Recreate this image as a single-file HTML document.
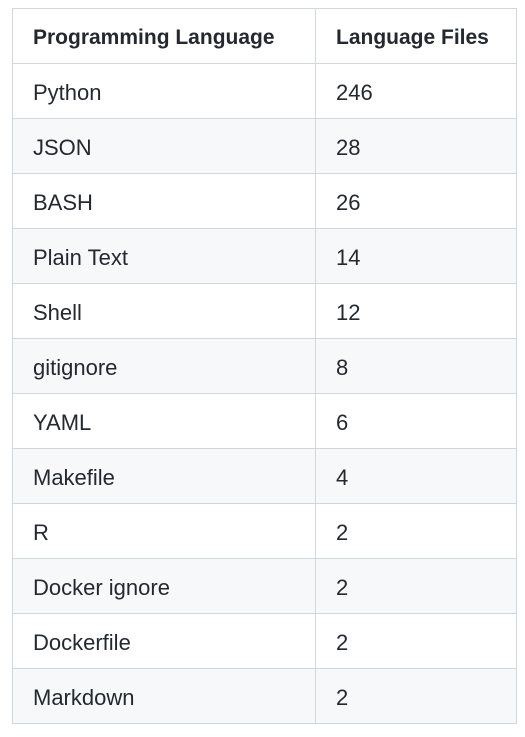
<!DOCTYPE html>
<html><head><style>
body{margin:0;width:525px;height:737px;background:#fff;font-family:"Liberation Sans",sans-serif;color:#24292f;}
table{position:absolute;left:12px;top:8px;border-collapse:collapse;width:505px;}
td,th{border:1px solid #d0d7de;height:55px;padding:4px 0 0 20px;text-align:left;font-size:22px;box-sizing:border-box;}
th{font-weight:bold;font-size:21px;padding-top:3px;}
td:first-child,th:first-child{width:303px;}
tr:nth-child(odd) td{background:#f6f8fa;}
tr:first-child th{background:#fff}
</style></head><body>
<table>
<tr><th>Programming Language</th><th>Language Files</th></tr>
<tr><td>Python</td><td>246</td></tr>
<tr><td>JSON</td><td>28</td></tr>
<tr><td>BASH</td><td>26</td></tr>
<tr><td>Plain Text</td><td>14</td></tr>
<tr><td>Shell</td><td>12</td></tr>
<tr><td>gitignore</td><td>8</td></tr>
<tr><td>YAML</td><td>6</td></tr>
<tr><td>Makefile</td><td>4</td></tr>
<tr><td>R</td><td>2</td></tr>
<tr><td>Docker ignore</td><td>2</td></tr>
<tr><td>Dockerfile</td><td>2</td></tr>
<tr><td>Markdown</td><td>2</td></tr>
</table>
</body></html>
